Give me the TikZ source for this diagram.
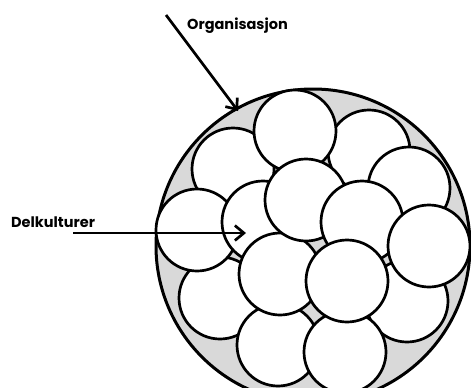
\documentclass[tikz,border=0pt]{standalone}
\usepackage{fontspec}
\setmainfont{Poppins}
\usetikzlibrary{arrows.meta}
\definecolor{fillgray}{HTML}{D9D9D9}
\tikzset{
  cell/.style={circle, draw=black, fill=white, line width=2.7pt, minimum size=82pt, inner sep=0pt},
  org/.style={circle, draw=black, fill=fillgray, line width=3pt, minimum size=314pt, inner sep=0pt},
  lab/.style={font=\bfseries\fontsize{14.5}{16}\selectfont, inner sep=0pt},
  pointer/.style={line width=2.7pt, -{Straight Barb[length=9pt,width=15pt,line width=2.7pt]}}
}
\begin{document}
\begin{tikzpicture}[x=1pt,y=-1pt]
\useasboundingbox (0,0) rectangle (471,388);
\clip (0,0) rectangle (471,388);
\fill[white] (0,0) rectangle (471,388);
\node[org] (O) at (313,246) {};
\node[cell] (c2) at (233,169) {};
\node[cell] (c3) at (369,151) {};
\node[cell] (c1) at (295,131) {};
\node[cell] (c4) at (409,188) {};
\node[cell] (c12) at (220,298) {};
\node[cell] (c6) at (197,230) {};
\node[cell] (c7) at (263,222) {};
\node[cell] (c14) at (278,345) {};
\node[cell] (c10) at (280,274) {};
\node[cell] (c8) at (306,200) {};
\node[cell] (c13) at (407,301) {};
\node[cell] (c15) at (345,352) {};
\node[cell] (c9) at (362,222) {};
\node[cell] (c11) at (347,281) {};
\node[cell] (c5) at (429,246) {};
\node[lab, anchor=west] (lorg) at (187,26) {Organisasjon};
\node[lab, anchor=west] (ldel) at (11,222) {Delkulturer};
\coordinate (s1) at (166,15);
\coordinate (t1) at (238,111);
\coordinate (s2) at (73,233);
\coordinate (t2) at (246,233);
\draw[pointer] (s1) -- (t1);
\draw[pointer] (s2) -- (t2);
\end{tikzpicture}
\end{document}
